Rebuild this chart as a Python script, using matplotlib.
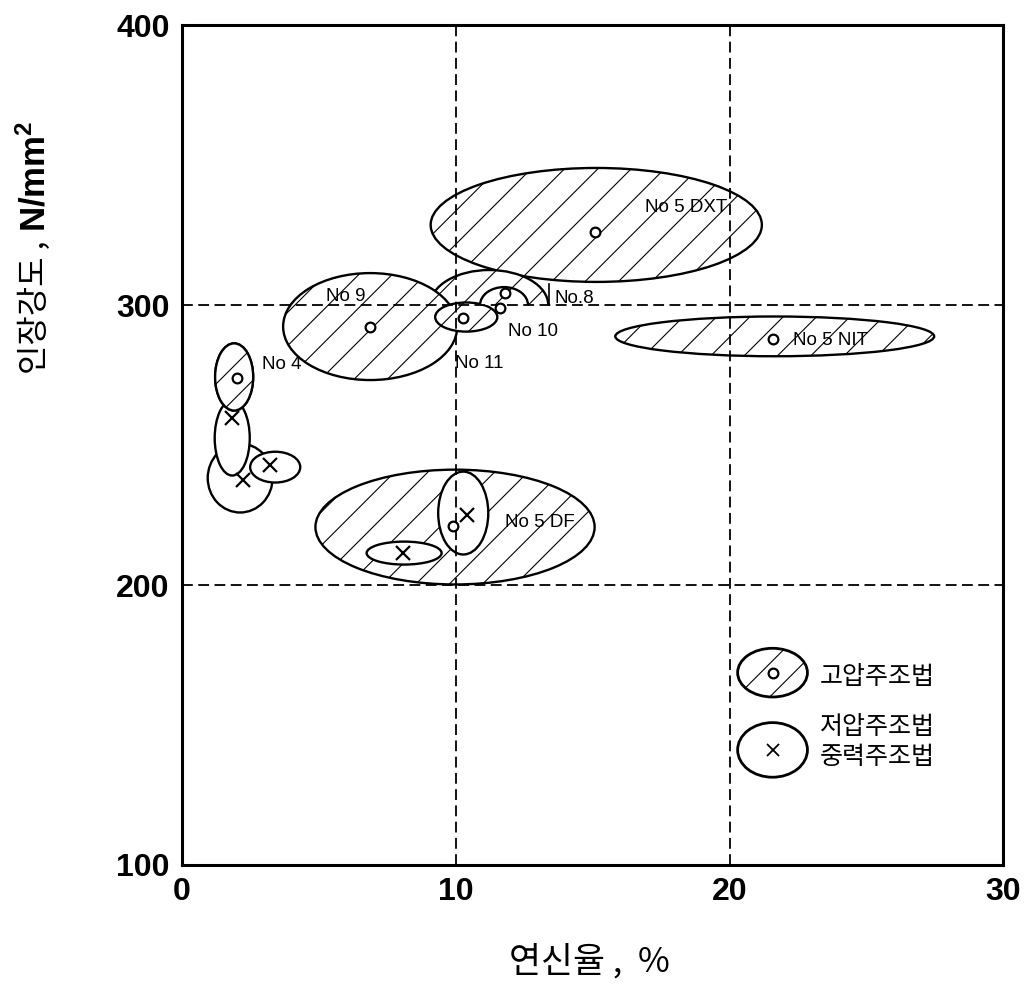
import matplotlib
matplotlib.use("Agg")
import matplotlib.pyplot as plt
from matplotlib.patches import Ellipse, Rectangle

plt.rcParams['hatch.linewidth'] = 0.8
plt.rcParams['mathtext.fontset'] = 'custom'
plt.rcParams['mathtext.bf'] = 'Liberation Sans:bold'
plt.rcParams['mathtext.rm'] = 'Liberation Sans'

# high pressure casting regions (hatched, 'o')
hp_names = ["No 5 DXT", "No 8", "No 9", "No 11", "No 10", "No 5 NIT", "No 4", "No 5 DF"]
hp_cx = [15.13, 11.22, 6.87, 10.38, 11.76, 21.65, 1.90, 9.97]
hp_cy = [328.6, 300.0, 292.3, 295.7, 300.0, 288.8, 274.3, 220.7]
hp_w = [12.1, 4.31, 6.36, 2.27, 1.75, 11.65, 1.39, 10.2]
hp_h = [40.7, 25.0, 38.2, 10.4, 12.8, 14.2, 24.0, 41.0]
hp_half = [False, True, False, False, True, False, False, False]  # only upper half above 300

hp_pts_x = [15.09, 6.87, 10.27, 11.80, 11.62, 21.60, 2.00, 9.90]
hp_pts_y = [326.1, 292.1, 295.4, 304.3, 298.9, 287.9, 273.9, 221.1]

# low pressure / gravity casting regions (plain, 'x')
lp_cx = [2.12, 1.83, 3.40, 10.27, 8.11]
lp_cy = [238.2, 252.5, 242.1, 225.7, 211.4]
lp_w = [2.37, 1.28, 1.83, 1.83, 2.74]
lp_h = [24.6, 26.8, 11.0, 29.6, 8.2]
lp_pts_x = [2.23, 1.83, 3.20, 10.41, 8.07]
lp_pts_y = [237.5, 259.6, 242.9, 225.0, 211.4]

# region labels
lab_text = ["No 5 DXT", "No 9", "No.8", "No 10", "No 11", "No 4", "No 5 NIT", "No 5 DF"]
lab_x = [16.9, 5.24, 13.6, 11.9, 9.96, 2.93, 22.3, 11.8]
lab_y = [335.0, 303.2, 302.5, 290.4, 279.0, 278.6, 287.5, 222.5]

legend_labels = ["고압주조법", "저압주조법\n중력주조법"]

xticks = [0, 10, 20, 30]
yticks = [100, 200, 300, 400]

fig = plt.figure(figsize=(10.29, 9.97), dpi=100)
ax = fig.add_axes([0.177, 0.1324, 0.798, 0.8425])
ax.set_xlim(0, 30)
ax.set_ylim(100, 400)

z = 2
for i in range(len(hp_names)):
    if hp_names[i] == "No 5 DF":
        continue
    e = Ellipse((hp_cx[i], hp_cy[i]), hp_w[i], hp_h[i], facecolor='white',
                edgecolor='black', hatch='/', lw=1.7, zorder=z)
    ax.add_patch(e)
    if hp_half[i]:
        clip = Rectangle((0, 300), 30, 100, transform=ax.transData)
        e.set_clip_path(clip)
    z += 0.1

# No.8 leader
ax.plot([13.4, 13.4], [300, 307.5], color='black', lw=1.2, zorder=z)

# DF large ellipse
ax.add_patch(Ellipse((hp_cx[7], hp_cy[7]), hp_w[7], hp_h[7], facecolor='white',
                     edgecolor='black', hatch='/', lw=1.7, zorder=2))

# low pressure ellipses: draw order so outlines overlap as in the reference
for i in range(len(lp_cx)):
    ax.add_patch(Ellipse((lp_cx[i], lp_cy[i]), lp_w[i], lp_h[i], facecolor='white',
                         edgecolor='black', lw=1.7, zorder=2.5 + i * 0.1))
# No 4 over the tall one
ax.add_patch(Ellipse((hp_cx[6], hp_cy[6]), hp_w[6], hp_h[6], facecolor='white',
                     edgecolor='black', hatch='/', lw=1.7, zorder=3.2))

ax.plot(hp_pts_x, hp_pts_y, 'o', ms=7, mfc='white', mec='black', mew=1.6, zorder=5)
ax.plot(lp_pts_x, lp_pts_y, 'x', ms=10, color='black', mew=1.6, zorder=5)

for t, x, y in zip(lab_text, lab_x, lab_y):
    ax.text(x, y, t, fontsize=13.5, family='Liberation Sans', va='center', ha='left', zorder=6)

# grid
for v in [10, 20]:
    ax.axvline(v, color='black', lw=1.3, ls=(0, (6, 3)), zorder=4)
for v in [200, 300]:
    ax.axhline(v, color='black', lw=1.3, ls=(0, (6, 3)), zorder=4)

# legend drawn inside axes
ax.add_patch(Ellipse((0.719, 0.229), 0.085, 0.058, transform=ax.transAxes, facecolor='white',
                     edgecolor='black', hatch='/', lw=2, zorder=5))
ax.plot([0.719], [0.229], 'o', transform=ax.transAxes, ms=7, mfc='white', mec='black', mew=1.6, zorder=6)
ax.add_patch(Ellipse((0.719, 0.137), 0.085, 0.065, transform=ax.transAxes, facecolor='white',
                     edgecolor='black', lw=2, zorder=5))
ax.plot([0.719], [0.137], 'x', transform=ax.transAxes, ms=9, color='black', mew=1.3, zorder=6)
ax.text(0.777, 0.224, legend_labels[0], transform=ax.transAxes, fontsize=18,
        family='Noto Sans CJK KR', va='center', ha='left')
ax.text(0.777, 0.146, legend_labels[1], transform=ax.transAxes, fontsize=18,
        family='Noto Sans CJK KR', va='center', ha='left', linespacing=1.2)

ax.set_xticks(xticks)
ax.set_yticks(yticks)
ax.tick_params(length=0, pad=9)
for lab in ax.get_xticklabels() + ax.get_yticklabels():
    lab.set_fontfamily('Liberation Sans')
    lab.set_fontweight('bold')
    lab.set_fontsize(23)
for s in ax.spines.values():
    s.set_linewidth(2.2)

fig.text(0.573, 0.035, "연신율 ,  %", fontsize=25, family='Noto Sans CJK KR',
         ha='center', va='center')
fig.text(0.034, 0.692, "인장강도 ,", fontsize=23, family='Noto Sans CJK KR',
         ha='center', va='center', rotation=90)
fig.text(0.034, 0.823, r"$\mathbf{N/mm^2}$", fontsize=25,
         ha='center', va='center', rotation=90)

fig.savefig("out.png", dpi=100)
